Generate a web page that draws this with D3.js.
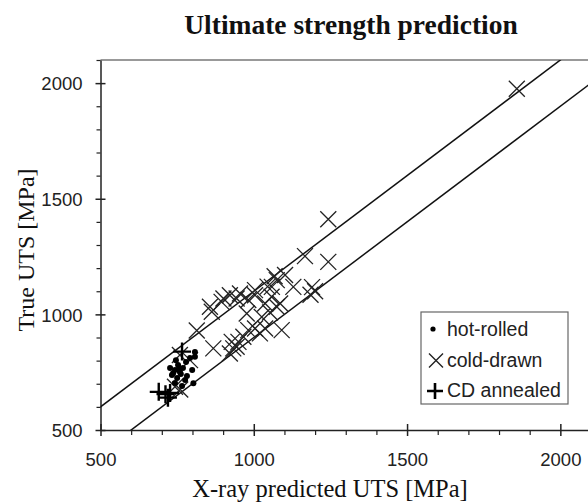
<!DOCTYPE html>
<html>
<head>
<meta charset="utf-8">
<script src="https://cdn.jsdelivr.net/npm/d3@7"></script>
<style>
  body { margin: 0; background: #fff; }
  svg { display: block; }
  .tick text { font-family: "Liberation Sans", Arial, sans-serif; font-size: 18.5px; fill: #222; }
  .serif { font-family: "Liberation Serif", "Times New Roman", serif; fill: #111; }
</style>
</head>
<body>
<svg id="chart" width="588" height="503"></svg>
<script>
// values, [predicted, true] in MPa
var hotRolled = [
  [733,738],[743,759],[753,781],[759,751],[769,768],[750,725],[779,794],
  [792,811],[799,759],[782,733],[808,837],[743,703],[766,690],[727,768],
  [746,802],[776,716],[808,817],[803,702],[737,745],[756,765],[762,742]
];
var coldDrawn = [
  [1858,1976],[1243,1411],[1167,1252],[1243,1227],[1102,1170],[1068,1165],
  [1075,1148],[1059,1119],[1045,1120],[1129,1119],[1190,1118],[1185,1085],
  [1200,1100],[1004,1105],[1004,1083],[982,1062],[955,1090],[944,1069],
  [922,1083],[895,1054],[901,1069],[857,1033],[863,1011],[1037,1047],
  [1086,1047],[1058,1076],[1075,1033],[1053,1008],[1026,989],[977,1004],
  [814,930],[868,853],[933,853],[922,831],[950,881],[966,903],[982,932],
  [1004,939],[1037,939],[1091,932],[1020,918],[944,860],[928,881],
  [759,824],[792,802],[743,687],[760,675]
];
var cdAnnealed = [
  [690,665],[712,655],[727,660],[720,640],[766,839]
];
var bandOffsets = [100, -100];   // lines true = predicted +/- 100
var majorTicks = [500, 1000, 1500, 2000];
var minorTicks = d3.range(600, 2101, 100).filter(v => majorTicks.indexOf(v) < 0);
var legendItems = ["hot-rolled", "cold-drawn", "CD annealed"];

var svg = d3.select("#chart");
var pLeft = 100.5, pRight = 591, pTop = 60, pBottom = 430; // careful: "top" is taken by window

var x = d3.scaleLinear().domain([500, 2100]).range([pLeft, pRight]);
var y = d3.scaleLinear().domain([500, 2100]).range([pBottom, pTop]);
var fmt = d3.format("d");

svg.append("clipPath").attr("id", "plotclip")
  .append("rect").attr("x", pLeft).attr("y", pTop)
  .attr("width", pRight - pLeft).attr("height", pBottom - pTop);

// top frame
svg.append("line")
  .attr("x1", pLeft).attr("x2", pRight).attr("y1", pTop).attr("y2", pTop)
  .attr("stroke", "#777").attr("stroke-width", 1.5);

// minor ticks
svg.append("g").attr("transform", "translate(0," + pBottom + ")")
  .call(d3.axisBottom(x).tickValues(minorTicks).tickSize(5).tickFormat(""))
  .call(g => g.select(".domain").remove())
  .selectAll("line").attr("stroke", "#222").attr("stroke-width", 1.2);
svg.append("g").attr("transform", "translate(" + pLeft + ",0)")
  .call(d3.axisLeft(y).tickValues(minorTicks).tickSize(4).tickFormat(""))
  .call(g => g.select(".domain").remove())
  .selectAll("line").attr("stroke", "#222").attr("stroke-width", 1.2);

// major axes, ticks crossing the axis line
var xAxis = svg.append("g").attr("transform", "translate(0," + pBottom + ")")
  .call(d3.axisBottom(x).tickValues(majorTicks).tickFormat(fmt).tickSize(6).tickSizeOuter(0).tickPadding(17));
xAxis.selectAll(".tick line").attr("y1", -6);
var yAxis = svg.append("g").attr("transform", "translate(" + pLeft + ",0)")
  .call(d3.axisLeft(y).tickValues(majorTicks).tickFormat(fmt).tickSize(5).tickSizeOuter(0).tickPadding(13));
yAxis.selectAll(".tick line").attr("x1", 5);
svg.selectAll(".domain").attr("stroke", "#222").attr("stroke-width", 1.5);
svg.selectAll(".tick line").attr("stroke", "#222");
xAxis.selectAll(".tick line").attr("stroke-width", 1.5);
yAxis.selectAll(".tick line").attr("stroke-width", 1.5);
yAxis.selectAll(".tick text").attr("dy", "0.36em");

// +/- 100 MPa band lines
svg.append("g").attr("clip-path", "url(#plotclip)")
  .selectAll("line").data(bandOffsets).join("line")
  .attr("x1", x(400)).attr("y1", d => y(400 + d))
  .attr("x2", x(2200)).attr("y2", d => y(2200 + d))
  .attr("stroke", "#111").attr("stroke-width", 1.5);

function crossPath(s) { return "M" + -s + "," + -s + "L" + s + "," + s + "M" + -s + "," + s + "L" + s + "," + -s; }
function plusPath(s) { return "M" + -s + ",0L" + s + ",0M0," + -s + "L0," + s; }

var marks = svg.append("g");
marks.selectAll(".cd").data(coldDrawn).join("path")
  .attr("class", "cd")
  .attr("transform", d => "translate(" + x(d[0]) + "," + y(d[1]) + ")")
  .attr("d", crossPath(8)).attr("fill", "none")
  .attr("stroke", "#222").attr("stroke-width", 1.3);
marks.selectAll(".hr").data(hotRolled).join("circle")
  .attr("class", "hr")
  .attr("cx", d => x(d[0])).attr("cy", d => y(d[1])).attr("r", 3)
  .attr("fill", "#000");
marks.selectAll(".an").data(cdAnnealed).join("path")
  .attr("class", "an")
  .attr("transform", d => "translate(" + x(d[0]) + "," + y(d[1]) + ")")
  .attr("d", plusPath(9)).attr("fill", "none")
  .attr("stroke", "#000").attr("stroke-width", 2.4);

// legend
var legend = svg.append("g").attr("transform", "translate(421,312)");
legend.append("rect").attr("width", 147).attr("height", 92)
  .attr("fill", "#fff").attr("stroke", "#666").attr("stroke-width", 1.2);
var rows = legend.selectAll("g").data(legendItems).join("g")
  .attr("transform", (d, i) => "translate(0," + (17 + i * 30.5) + ")");
rows.append("text").attr("x", 26).attr("y", 7)
  .style("font-family", "'Liberation Sans', Arial, sans-serif").style("font-size", "19.5px")
  .attr("fill", "#222").text(d => d);
rows.filter((d, i) => i == 0).append("circle").attr("cx", 12).attr("r", 2.6).attr("fill", "#000");
rows.filter((d, i) => i == 1).append("path").attr("transform", "translate(15,1)")
  .attr("d", crossPath(7)).attr("stroke", "#222").attr("stroke-width", 1.4);
rows.filter((d, i) => i == 2).append("path").attr("transform", "translate(14,1)")
  .attr("d", plusPath(8)).attr("stroke", "#000").attr("stroke-width", 2.6);

// titles
svg.append("text").attr("class", "serif").attr("x", 351).attr("y", 34)
  .attr("text-anchor", "middle").style("font-size", "27.5px").style("font-weight", "bold")
  .text("Ultimate strength prediction");
svg.append("text").attr("class", "serif").attr("x", 330).attr("y", 497)
  .attr("text-anchor", "middle").style("font-size", "24.5px")
  .text("X-ray predicted UTS [MPa]");
svg.append("text").attr("class", "serif")
  .attr("transform", "translate(34,250) rotate(-90)")
  .attr("text-anchor", "middle").style("font-size", "24px")
  .text("True UTS [MPa]");
</script>
</body>
</html>
